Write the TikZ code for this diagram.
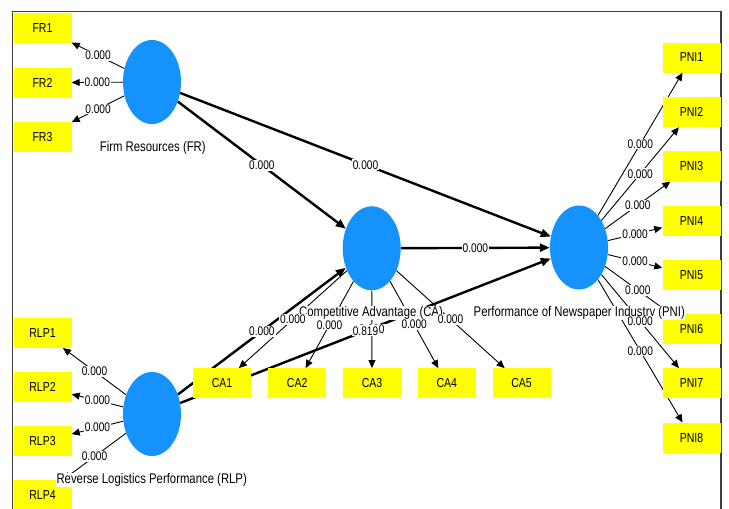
\documentclass[tikz,border=0pt]{standalone}
\usepackage{fontspec}
\setmainfont{Liberation Sans}[FakeStretch=0.81]
\usetikzlibrary{shapes.geometric, arrows.meta}
\definecolor{lvblue}{RGB}{22,146,252}
\definecolor{mvyellow}{RGB}{255,255,0}
\definecolor{framegray}{RGB}{64,64,64}
\pgfdeclarelayer{background}
\pgfsetlayers{background,main}
\tikzset{
  latent/.style={ellipse, fill=lvblue, minimum width=58pt, minimum height=84pt, inner sep=0pt},
  indic/.style={rectangle, fill=mvyellow, minimum width=58pt, minimum height=30pt,
    inner sep=0pt, font=\fontsize{13}{15}\selectfont},
  lvname/.style={fill=white, inner sep=0.5pt, font=\fontsize{14}{16}\selectfont},
  coef/.style={fill=white, inner sep=1pt, pos=0.5, font=\fontsize{12.5}{14}\selectfont},
  outer/.style={line width=0.9pt, -{Triangle[length=8pt,width=7pt]}},
  structural/.style={line width=2.4pt, -{Triangle[length=10pt,width=8pt]}}
}

\begin{document}
\begin{tikzpicture}[x=1pt, y=-1pt]
\useasboundingbox (0,0) rectangle (729,509);
\draw[framegray, line width=1.5pt] (12.7,515) -- (12.7,11.7) -- (721,11.7) -- (721,515);

% constructs
\node[latent] (FR)  at (152,82)      {};
\node[latent] (CA)  at (371.7,248.3) {};
\node[latent] (PNI) at (579,247.5)   {};
\node[latent] (RLP) at (152,414)     {};

% indicators
\node[indic] (FR1)  at (42.5,28.3)  {FR1};
\node[indic] (FR2)  at (42.5,82.7)  {FR2};
\node[indic] (FR3)  at (42.5,136.7) {FR3};
\node[indic] (RLP1) at (42.5,332.8) {RLP1};
\node[indic] (RLP2) at (42.5,387)   {RLP2};
\node[indic] (RLP3) at (42.5,441.3) {RLP3};
\node[indic] (RLP4) at (42.5,495)   {RLP4};
\node[indic] (CA1)  at (222,383.3)   {CA1};
\node[indic] (CA2)  at (297.2,383.3) {CA2};
\node[indic] (CA3)  at (372,383.3)   {CA3};
\node[indic] (CA4)  at (446.8,383.3) {CA4};
\node[indic] (CA5)  at (521.5,383.3) {CA5};
\node[indic] (PNI1) at (691.5,57.5)  {PNI1};
\node[indic] (PNI2) at (691.5,112)   {PNI2};
\node[indic] (PNI3) at (691.5,166.3) {PNI3};
\node[indic] (PNI4) at (691.5,220.7) {PNI4};
\node[indic] (PNI5) at (691.5,275)   {PNI5};
\node[indic] (PNI6) at (691.5,329)   {PNI6};
\node[indic] (PNI7) at (691.5,383.3) {PNI7};
\node[indic] (PNI8) at (691.5,437.7) {PNI8};

% paths, kept under the shapes
\begin{pgfonlayer}{background}
\path[outer] (FR)  edge (FR1)  edge (FR2)  edge (FR3)
             (RLP) edge (RLP1) edge (RLP2) edge (RLP3) edge (RLP4)
             (CA)  edge (CA1)  edge (CA2)  edge (CA3)  edge (CA4) edge (CA5)
             (PNI) edge (PNI1) edge (PNI2) edge (PNI3) edge (PNI4)
                   edge (PNI5) edge (PNI6) edge (PNI7) edge (PNI8);
\path[structural] (FR)  edge (CA)
                        edge (PNI)
                  (CA)  edge (PNI)
                  (RLP) edge (CA)
                        edge (PNI);
\end{pgfonlayer}

% construct names
\node[lvname] (FRname)  at (152.8,148.3) {Firm Resources (FR)};
\node[lvname] (CAname)  at (371,313)     {Competitive Advantage (CA)};
\node[lvname] (PNIname) at (579.3,313)   {Performance of Newspaper Industry (PNI)};
\node[lvname] (RLPname) at (151.7,480)   {Reverse Logistics Performance (RLP)};

% p values
\path (FR)  edge[draw=none] node[coef] {0.000} (FR1)
            edge[draw=none] node[coef] {0.000} (FR2)
            edge[draw=none] node[coef] {0.000} (FR3)
      (RLP) edge[draw=none] node[coef] {0.000} (RLP1)
            edge[draw=none] node[coef] {0.000} (RLP2)
            edge[draw=none] node[coef] {0.000} (RLP3)
            edge[draw=none] node[coef] {0.000} (RLP4)
      (CA)  edge[draw=none] node[coef] {0.000} (CA1)
            edge[draw=none] node[coef] {0.000} (CA2)
            edge[draw=none] node[coef] {0.000} (CA3)
            edge[draw=none] node[coef] {0.000} (CA4)
            edge[draw=none] node[coef] {0.000} (CA5)
      (PNI) edge[draw=none] node[coef] {0.000} (PNI1)
            edge[draw=none] node[coef] {0.000} (PNI2)
            edge[draw=none] node[coef] {0.000} (PNI3)
            edge[draw=none] node[coef] {0.000} (PNI4)
            edge[draw=none] node[coef] {0.000} (PNI5)
            edge[draw=none] node[coef] {0.000} (PNI6)
            edge[draw=none] node[coef] {0.000} (PNI7)
            edge[draw=none] node[coef] {0.000} (PNI8);
\path (FR)  edge[draw=none] node[coef] {0.000} (CA)
            edge[draw=none] node[coef] {0.000} (PNI)
      (CA)  edge[draw=none] node[coef] {0.000} (PNI)
      (RLP) edge[draw=none] node[coef] {0.000} (CA)
            edge[draw=none] node[coef] {0.819} (PNI);
\end{tikzpicture}
\end{document}
